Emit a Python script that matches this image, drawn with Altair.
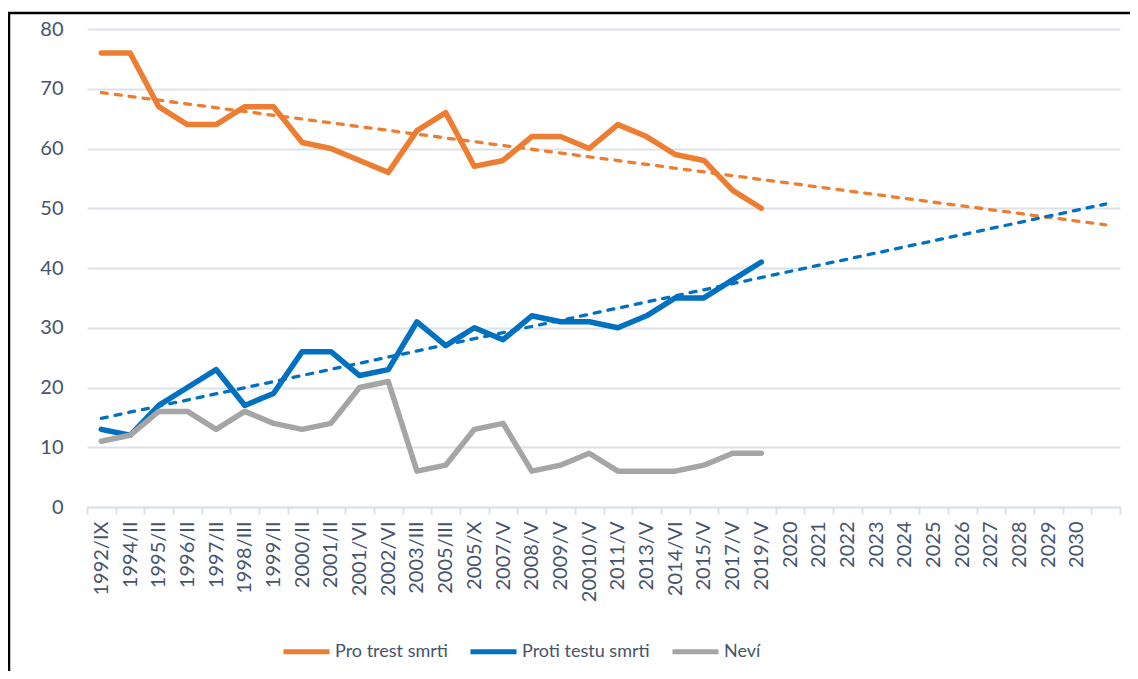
import json
import altair as alt
import pandas as pd

# Survey waves (24) + forecast years (11) + one empty trailing band
cats = ["1992/IX", "1994/II", "1995/II", "1996/II", "1997/II", "1998/III", "1999/II",
        "2000/II", "2001/II", "2001/VI", "2002/VI", "2003/III", "2005/III", "2005/X",
        "2007/V", "2008/V", "2009/V", "20010/V", "2011/V", "2013/V", "2014/VI",
        "2015/V", "2017/V", "2019/V",
        "2020", "2021", "2022", "2023", "2024", "2025", "2026", "2027", "2028", "2029", "2030",
        "2031"]

series_names = ["Pro trest smrti", "Proti testu smrti", "Neví"]
series_colors = ["#ED7D31", "#0070C0", "#A5A5A5"]

pro = [76, 76, 67, 64, 64, 67, 67, 61, 60, 58, 56, 63, 66, 57, 58, 62, 62, 60, 64, 62, 59, 58, 53, 50]
proti = [13, 12, 17, 20, 23, 17, 19, 26, 26, 22, 23, 31, 27, 30, 28, 32, 31, 31, 30, 32, 35, 35, 38, 41]
nevi = [11, 12, 16, 16, 13, 16, 14, 13, 14, 20, 21, 6, 7, 13, 14, 6, 7, 9, 6, 6, 6, 7, 9, 9]

rows = []
for name, vals in zip(series_names, [pro, proti, nevi]):
    for i, v in enumerate(vals):
        rows.append({"cat": cats[i], "idx": i, "series": name, "value": v})
df = pd.DataFrame(rows)

FONT = "Lato"
TXT = "#44546A"
GRID = "#DDE2E8"

x_enc = alt.X(
    "cat:O",
    bandPosition=0.5,
    sort=cats,
    scale=alt.Scale(type="band", domain=cats, paddingInner=0, paddingOuter=0),
    axis=alt.Axis(
        title=None, labelAngle=270, tickBand="extent", grid=False,
        labelExpr="datum.value == '2031' ? '' : datum.value",
        labelFontSize=20, labelFont=FONT, labelColor=TXT, labelPadding=7,
        domainColor=GRID, domainWidth=2, tickColor=GRID, tickWidth=2, tickSize=7,
    ),
)
y_enc = alt.Y(
    "value:Q",
    scale=alt.Scale(domain=[0, 80], nice=False),
    axis=alt.Axis(
        title=None, values=list(range(0, 81, 10)), domain=False, ticks=False,
        labelFontSize=20, labelFont=FONT, labelColor=TXT, labelPadding=24,
        gridColor=GRID, gridWidth=2,
    ),
)
color_scale = alt.Scale(domain=series_names, range=series_colors)

base = alt.Chart(df)

lines = base.mark_line(strokeWidth=5.5, strokeCap="round", strokeJoin="round").encode(
    x=x_enc,
    y=y_enc,
    color=alt.Color(
        "series:N", scale=color_scale,
        legend=alt.Legend(
            title=None, orient="none", legendX=194, legendY=597, direction="horizontal",
            symbolType="stroke", symbolSize=2116, symbolStrokeWidth=5,
            labelFontSize=18, labelFont=FONT, labelColor=TXT, labelOffset=3,
            columnPadding=12, padding=0,
        ),
    ),
)

cats_js = json.dumps(cats)
trend = (
    base.transform_filter("datum.series != 'Neví'")
    .transform_regression("idx", "value", groupby=["series"], extent=[0, 35])
    .transform_calculate(cat=f"{cats_js}[round(datum.idx)]")
    .mark_line(strokeWidth=3.3, strokeDash=[6, 8], strokeCap="round")
    .encode(
        x=x_enc,
        y=y_enc,
        color=alt.Color("series:N", scale=color_scale, legend=None),
    )
)

frame_v = alt.Chart(alt.Data(values=[{}])).mark_rule(color="black", strokeWidth=2.5).encode(
    x=alt.value(-78), y=alt.value(-16), y2=alt.value(700)
)
frame_h = alt.Chart(alt.Data(values=[{}])).mark_rule(color="black", strokeWidth=2.5).encode(
    x=alt.value(-79), x2=alt.value(1100), y=alt.value(-16)
)

chart = (
    alt.layer(lines, trend, frame_v, frame_h)
    .resolve_scale(color="independent")
    .properties(
        width=1033, height=478,
        autosize=alt.AutoSizeParams(type="none"),
        padding={"left": 79, "top": 21, "right": 10, "bottom": 164},
        background="white",
    )
    .configure_view(stroke=None)
)

chart.save("out.html", embed_options={"renderer": "svg", "actions": False})
